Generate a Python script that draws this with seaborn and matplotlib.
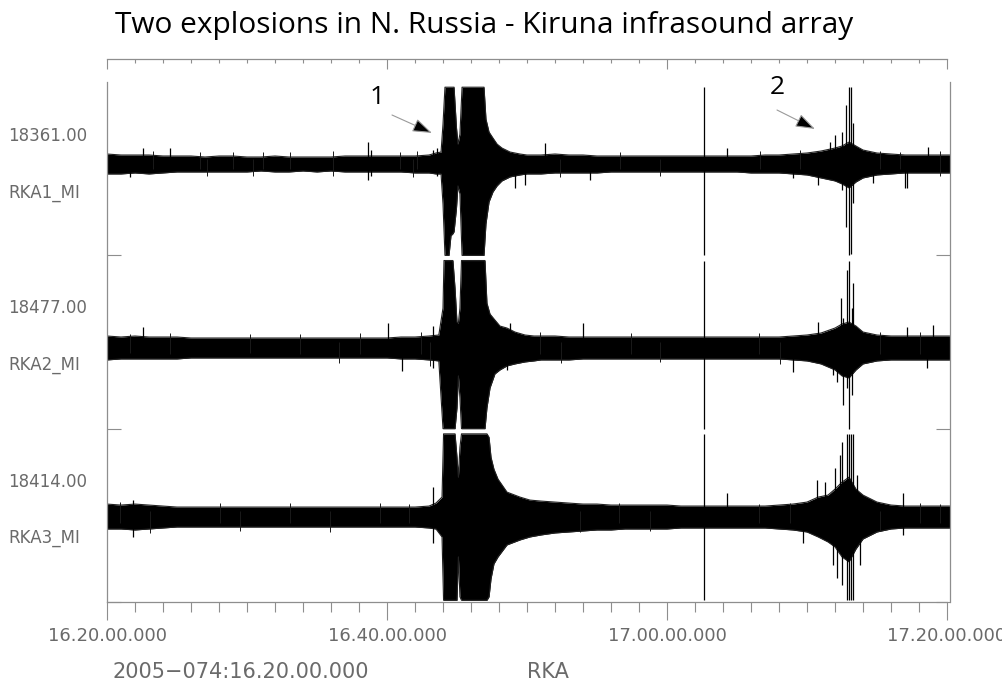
import numpy as np
import matplotlib
matplotlib.use("Agg")
import matplotlib.pyplot as plt
import seaborn as sns

# Time is in minutes after 2005-074 16:20:00; amplitudes are in display
# units where one panel half-height equals AMP_HALF.
AMP_HALF = 87.0

STATIONS = ["RKA1_MI", "RKA2_MI", "RKA3_MI"]
SCALES = ["18361.00", "18477.00", "18414.00"]
TRACE_DC = [4.7, -6.0, -1.7]
TICK_MINUTES = [0, 20, 40, 60]
TICK_LABELS = ["16.20.00.000", "16.40.00.000", "17.00.00.000", "17.20.00.000"]
TITLE = "Two explosions in N. Russia - Kiruna infrasound array"
START_LABEL = "2005\u2212074:16.20.00.000"
ARRAY_LABEL = "RKA"

# ---- RKA1 envelope (upper / lower extent of the trace) ----
rka1_t = [0, 1, 2, 3, 4, 5, 6, 7, 8, 9,
          10, 11, 12, 13, 14, 15, 16, 17, 18, 19,
          20, 21, 22, 23, 23.5, 23.86, 24.0, 24.14, 24.43, 24.57,
          24.71, 24.79, 24.96, 25.07, 25.21, 25.36, 26.93, 27.07, 27.29, 27.57,
          27.86, 28.21, 28.79, 29.5, 30, 31, 32, 33, 34, 35,
          36, 37, 38, 39, 40, 41, 42, 43, 44, 45,
          46, 47, 48, 49, 50, 51, 52, 52.5, 53, 53.5,
          54, 55, 56, 57, 58, 59, 60, 60.2]
rka1_up = [10, 9, 9, 9, 8, 8, 8, 7, 8, 8,
           7, 7, 8, 7, 7, 7, 7, 8, 8, 8,
           8, 8, 8, 9, 11, 12, 40, 130, 130, 130,
           130, 130, 37, 20, 30, 130, 130, 45, 32, 26,
           20, 16, 12, 10, 9, 9, 10, 9, 9, 8,
           8, 8, 8, 8, 8, 8, 8, 8, 8, 8,
           8, 9, 9, 10, 11, 13, 16, 18, 22, 18,
           14, 11, 10, 9, 9, 9, 9, 9]
rka1_lo = [10, 10, 9, 10, 9, 8, 8, 8, 8, 8,
           8, 7, 8, 8, 7, 8, 7, 8, 8, 8,
           8, 8, 9, 9, 10, 10, 40, 130, 130, 72,
           70, 68, 45, 22, 30, 130, 130, 60, 38, 28,
           22, 17, 13, 11, 10, 10, 9, 9, 9, 9,
           8, 8, 8, 8, 8, 8, 8, 8, 8, 8,
           9, 9, 9, 10, 11, 14, 17, 20, 24, 18,
           14, 11, 10, 9, 9, 9, 9, 9]

# ---- RKA2 envelope ----
rka2_t = [0, 1, 2, 3, 4, 5, 6, 7, 8, 9,
          10, 11, 12, 13, 14, 15, 16, 17, 18, 19,
          20, 21, 22, 23, 23.7, 24.0, 24.07, 24.21, 24.71, 24.86,
          25.0, 25.1, 25.21, 25.32, 27.0, 27.14, 27.36, 27.71, 28.07, 28.57,
          29.14, 29.86, 30.5, 31, 32, 33, 34, 35, 36, 37,
          38, 39, 40, 41, 42, 43, 44, 45, 46, 47,
          48, 49, 50, 51, 52, 52.5, 53, 53.5, 54, 55,
          56, 57, 58, 59, 60, 60.2]
rka2_up = [12, 11, 12, 11, 11, 11, 10, 10, 10, 10,
           10, 10, 10, 10, 10, 10, 10, 10, 10, 10,
           10, 11, 11, 12, 13, 40, 90, 130, 130, 60,
           26, 25, 40, 130, 130, 45, 34, 28, 22, 20,
           16, 13, 12, 12, 12, 11, 11, 11, 11, 11,
           11, 11, 11, 11, 11, 11, 11, 11, 11, 11,
           11, 12, 13, 15, 20, 24, 26, 22, 16, 13,
           12, 12, 12, 12, 12, 12]
rka2_lo = [12, 11, 11, 11, 11, 11, 10, 10, 10, 10,
           10, 10, 10, 10, 10, 10, 10, 10, 10, 10,
           10, 11, 11, 12, 13, 130, 130, 130, 130, 130,
           60, 28, 50, 130, 130, 60, 40, 26, 22, 18,
           16, 14, 13, 12, 12, 12, 11, 11, 11, 11,
           11, 11, 11, 11, 11, 11, 11, 11, 11, 11,
           11, 12, 13, 16, 22, 28, 30, 22, 16, 13,
           12, 12, 12, 12, 12, 12]

# ---- RKA3 envelope ----
rka3_t = [0, 1, 2, 3, 4, 5, 6, 7, 8, 9,
          10, 11, 12, 13, 14, 15, 16, 17, 18, 19,
          20, 21, 22, 23, 23.5, 23.93, 24.04, 24.86, 25.0, 25.1,
          25.21, 25.32, 27.14, 27.29, 27.43, 27.64, 27.93, 28.57, 29.5, 30.21,
          31, 32, 33, 34, 35, 36, 37, 38, 39, 40,
          41, 42, 43, 44, 45, 46, 47, 48, 49, 50,
          50.8, 51.5, 52, 52.5, 53, 53.5, 54, 55, 56, 57,
          58, 59, 60, 60.2]
rka3_up = [13, 12, 13, 12, 11, 10, 10, 10, 10, 10,
           10, 10, 10, 10, 10, 10, 10, 10, 10, 10,
           10, 10, 10, 11, 14, 20, 130, 130, 60, 40,
           70, 130, 130, 80, 60, 48, 38, 25, 20, 17,
           16, 15, 14, 13, 13, 12, 12, 12, 12, 12,
           11, 11, 11, 11, 11, 11, 11, 12, 13, 15,
           20, 22, 28, 35, 40, 28, 22, 15, 12, 11,
           11, 11, 11, 11]
rka3_lo = [12, 12, 13, 12, 11, 10, 10, 10, 10, 10,
           10, 10, 10, 10, 10, 10, 10, 10, 10, 10,
           10, 10, 10, 11, 12, 20, 130, 130, 130, 40,
           80, 130, 130, 80, 62, 47, 40, 28, 23, 20,
           18, 16, 15, 14, 13, 13, 12, 12, 12, 12,
           11, 11, 11, 11, 11, 11, 11, 12, 13, 15,
           20, 25, 30, 40, 45, 32, 22, 15, 12, 11,
           11, 11, 11, 11]

# ---- individual peaks standing out of the envelope ----
rka1_pk_t = [1.64, 2.57, 4.5, 18.64, 18.86, 23.3, 23.6, 29.14, 29.86, 31.29,
             34.5, 42.64, 44.29, 49.0, 50.8, 51.64, 52.0, 52.5, 52.79, 53.0,
             53.14, 53.29, 54.71, 57.0, 57.14, 58.64]
rka1_pk_up = [4, 16, 16, 22, 14, 14, 16, 5, 5, 21,
              6, 130, 16, 6, 8, 22, 29, 32, 59, 130,
              80, 41, 6, 6, 6, 17]
rka1_pk_lo = [13, 6, 6, 16, 12, 8, 12, 24, 21, 8,
              16, 130, 6, 14, 21, 12, 16, 26, 63, 130,
              90, 39, 19, 24, 24, 6]

rka2_pk_t = [2.57, 20.07, 21.07, 23.3, 28.57, 28.79, 34.0, 42.64, 49.0, 50.8,
             51.86, 52.14, 52.43, 52.57, 52.86, 53.0, 53.21, 53.29, 57.14, 58.57,
             59.0]
rka2_pk_up = [21, 25, 8, 22, 10, 25, 25, 130, 8, 26,
              14, 18, 50, 30, 78, 130, 40, 65, 21, 8,
              23]
rka2_pk_lo = [8, 8, 23, 20, 22, 10, 8, 130, 24, 10,
              27, 34, 20, 57, 40, 130, 47, 20, 8, 20,
              8]

rka3_pk_t = [1.86, 23.29, 42.64, 44.29, 49.71, 50.71, 51.29, 51.86, 52.0, 52.14,
             52.36, 52.5, 52.86, 53.0, 53.14, 53.29, 53.57, 53.79, 56.86]
rka3_pk_up = [17, 30, 130, 24, 8, 37, 35, 18, 49, 20,
              62, 75, 130, 130, 130, 130, 42, 20, 24]
rka3_pk_lo = [20, 26, 130, 8, 26, 12, 12, 48, 22, 61,
              30, 68, 130, 130, 130, 130, 20, 48, 18]

# ---- smaller wiggles along the noise band ----
rka1_w_t = [3.29, 6.64, 7.14, 9.0, 10.43, 11.14, 13.07, 16.14, 20.93, 21.86,
            22.14, 32.36, 36.64, 39.5, 46.64, 49.5, 55.2, 56.64, 59.5]
rka1_w_up = [13, 12, 5, 12, 5, 12, 12, 13, 12, 5,
             13, 5, 12, 5, 13, 14, 13, 12, 13]
rka1_w_lo = [5, 5, 12, 5, 12, 5, 5, 12, 5, 13,
             5, 13, 5, 12, 5, 5, 5, 5, 12]

rka2_w_t = [1.64, 4.5, 10.2, 13.8, 16.6, 18.1, 22.4, 23.07, 30.9, 32.4,
            37.4, 39.5, 46.6, 48.1, 55.2, 58.1]
rka2_w_up = [14, 15, 14, 14, 6, 15, 16, 6, 16, 6,
             15, 6, 15, 6, 16, 16]
rka2_w_lo = [5, 6, 5, 6, 15, 6, 6, 18, 6, 15,
             6, 14, 6, 16, 6, 6]

rka3_w_t = [0.93, 3.07, 8.07, 9.5, 13.07, 15.9, 19.5, 21.6, 33.8, 36.6,
            38.8, 46.6, 48.8, 55.2, 58.1, 59.5]
rka3_w_up = [15, 6, 14, 6, 14, 6, 14, 13, 6, 14,
             6, 13, 14, 6, 14, 13]
rka3_w_lo = [6, 16, 6, 14, 6, 15, 6, 6, 15, 6,
             14, 6, 6, 14, 6, 6]

traces = [
    (rka1_t, rka1_up, rka1_lo, rka1_pk_t, rka1_pk_up, rka1_pk_lo,
     rka1_w_t, rka1_w_up, rka1_w_lo),
    (rka2_t, rka2_up, rka2_lo, rka2_pk_t, rka2_pk_up, rka2_pk_lo,
     rka2_w_t, rka2_w_up, rka2_w_lo),
    (rka3_t, rka3_up, rka3_lo, rka3_pk_t, rka3_pk_up, rka3_pk_lo,
     rka3_w_t, rka3_w_up, rka3_w_lo),
]

# ---------------------------------------------------------------- layout
W, H = 1002, 681
sns.set_theme(style="white")
plt.rcParams["font.family"] = ["DejaVu Sans"]

GRAY = "#8e8e8e"
TXT = "#6a6a6a"

fig = plt.figure(figsize=(W / 100, H / 100), dpi=100)
ax_left, ax_right, ax_bot, ax_top = 107, 950, 602, 59
frame_top = 82
ax = fig.add_axes([ax_left / W, (H - ax_bot) / H,
                   (ax_right - ax_left) / W, (ax_bot - ax_top) / H])
x_end = (ax_right - ax_left) / 14.0          # 14 px per minute
unit_px = (ax_bot - frame_top) / 6.0          # one amplitude unit in pixels
y_top = 6 + (frame_top - ax_top) / unit_px
ax.set_facecolor("white")

centers = [5.0, 3.0, 1.0]
gap_top = 0.06


def to_y(c, dc, amp, sign, lo_clip, hi_clip):
    return np.clip(c + (dc + sign * np.asarray(amp, float)) / AMP_HALF, lo_clip, hi_clip)


for k, (t, up, lo, pt, pu, pl, wt, wu, wl) in enumerate(traces):
    c = centers[k]
    lo_clip = c - 1 + (0.02 if k == 2 else 0.0)
    hi_clip = c + 1 - gap_top
    dc = TRACE_DC[k]
    t = np.asarray(t, float)
    y_up = to_y(c, dc, up, 1, lo_clip, hi_clip)
    y_lo = to_y(c, dc, lo, -1, lo_clip, hi_clip)
    ax.fill_between(t, y_lo, y_up, color="black", lw=0)
    sns.lineplot(x=t, y=y_up, ax=ax, color="#222222", lw=0.8, estimator=None, sort=False)
    sns.lineplot(x=t, y=y_lo, ax=ax, color="#222222", lw=0.8, estimator=None, sort=False)
    ax.vlines(wt, to_y(c, dc, wl, -1, lo_clip, hi_clip),
              to_y(c, dc, wu, 1, lo_clip, hi_clip), color="#1a1a1a", lw=0.7)
    ax.vlines(pt, to_y(c, dc, pl, -1, lo_clip, hi_clip),
              to_y(c, dc, pu, 1, lo_clip, hi_clip), color="black", lw=0.9)

ax.set_xlim(0, x_end)
ax.set_ylim(0, y_top)

# frame
for s in ["left", "right", "bottom", "top"]:
    ax.spines[s].set_color(GRAY)
    ax.spines[s].set_linewidth(0.9)
ax.spines["top"].set_visible(False)
ax.spines["left"].set_bounds(0, 6)
ax.spines["right"].set_bounds(0, 6)
ax.spines["bottom"].set_bounds(0, 60)

ax.set_xticks(TICK_MINUTES)
ax.set_xticklabels(TICK_LABELS)
ax.set_xticks(np.arange(0, 61, 2), minor=True)
ax.tick_params(axis="x", which="major", bottom=True, top=False, direction="out",
               length=13, width=0.8, color=GRAY, labelcolor=TXT, labelsize=13, pad=5)
ax.tick_params(axis="x", which="minor", bottom=True, top=False, direction="out",
               length=7, width=0.8, color=GRAY)
ax.set_yticks([0, 2, 4])
ax.tick_params(axis="y", which="major", left=True, right=True, direction="in",
               length=10, width=0.8, color=GRAY, labelleft=False, labelright=False)
ax.set_xlabel("")
ax.set_ylabel("")

sec = ax.secondary_xaxis("top")
sec.spines["top"].set_color(GRAY)
sec.spines["top"].set_linewidth(0.9)
sec.spines["top"].set_bounds(0, 60)
sec.set_xticks(TICK_MINUTES)
sec.set_xticks(np.arange(0, 61, 2), minor=True)
sec.tick_params(axis="x", which="major", direction="in", length=7, width=0.8,
                color=GRAY, labeltop=False)
sec.tick_params(axis="x", which="minor", direction="in", length=3, width=0.8,
                color=GRAY)
sec.set_xticklabels([])

# channel labels
scale_y = [136, 308, 482]
name_y = [193, 365, 538]
for k in range(3):
    fig.text(8 / W, 1 - scale_y[k] / H, SCALES[k], ha="left", va="center",
             color=TXT, fontsize=12)
    fig.text(8 / W, 1 - name_y[k] / H, STATIONS[k], ha="left", va="center",
             color=TXT, fontsize=12)

fig.text(113 / W, 1 - 672 / H, START_LABEL, ha="left", va="center",
         color=TXT, fontsize=15)
fig.text(527 / W, 1 - 672 / H, ARRAY_LABEL, ha="left", va="center",
         color=TXT, fontsize=15)

fig.text(115 / W, 1 - 25 / H, TITLE, ha="left", va="center",
         color="black", fontsize=21.5, family=["Open Sans", "DejaVu Sans"])


# event markers
def px(xp, yp):
    return ((xp - ax_left) / 14.0, (ax_bot - yp) / unit_px)


for lab, lab_xy, start, tip in [("1", (377, 97), (392, 115), (432, 133)),
                                ("2", (777, 88), (777, 110), (815, 129))]:
    ax.text(*px(*lab_xy), lab, ha="center", va="center", fontsize=19,
            color="black", family=["Open Sans", "DejaVu Sans"])
    ax.annotate("", xy=px(*tip), xytext=px(*start),
                arrowprops=dict(arrowstyle="-|>,head_length=1.0,head_width=0.35",
                                mutation_scale=12, fc="black", ec="#9a9a9a",
                                lw=0.8, shrinkA=0, shrinkB=0))

fig.savefig("out.png", dpi=100, facecolor="white")
